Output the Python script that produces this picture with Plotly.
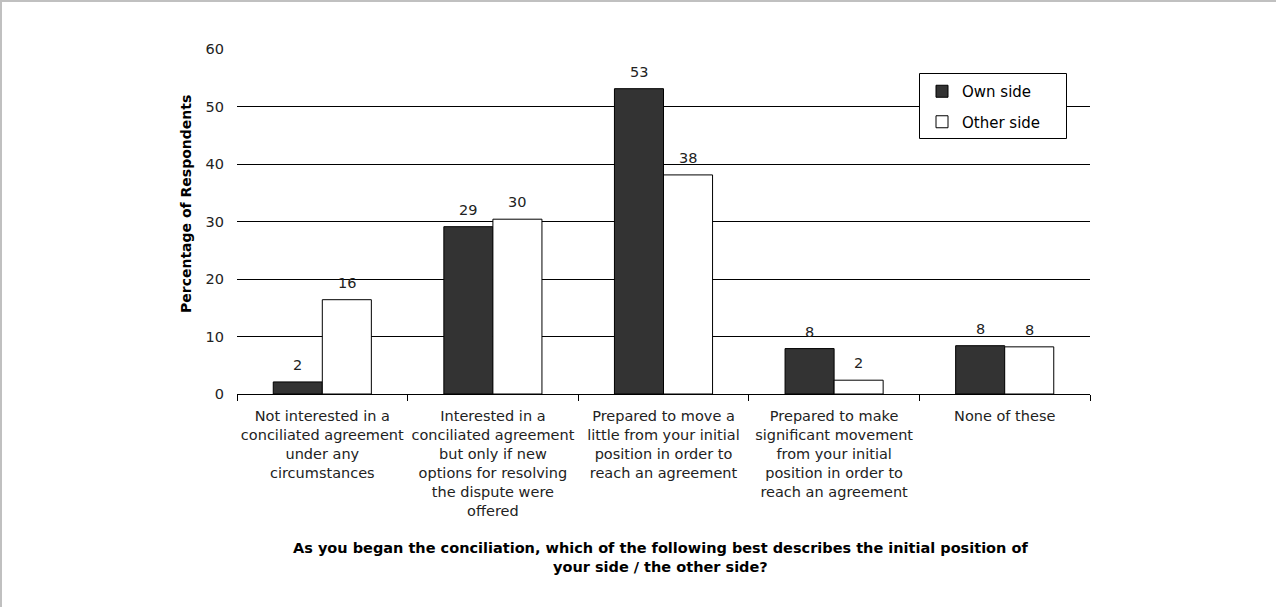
import plotly.graph_objects as go

categories = [
    "Not interested in a<br>conciliated agreement<br>under any<br>circumstances",
    "Interested in a<br>conciliated agreement<br>but only if new<br>options for resolving<br>the dispute were<br>offered",
    "Prepared to move a<br>little from your initial<br>position in order to<br>reach an agreement",
    "Prepared to make<br>significant movement<br>from your initial<br>position in order to<br>reach an agreement",
    "None of these",
]
own_side = [2.1, 29.1, 53.1, 7.9, 8.4]
other_side = [16.4, 30.4, 38.1, 2.4, 8.2]
y_ticks = [0, 10, 20, 30, 40, 50, 60]

FONT = "DejaVu Sans, Verdana, sans-serif"
FS = 14.5
W, H = 1276, 607
ML, MR, MT, MB = 237, 186, 49, 213
BARGAP = 0.425

fig = go.Figure()
fig.add_trace(go.Bar(
    name="Own side", x=categories, y=own_side, legendgroup="own",
    marker=dict(color="#333333", line=dict(color="#000000", width=1)),
))
fig.add_trace(go.Bar(
    name="Other side", x=categories, y=other_side, legendgroup="other",
    marker=dict(color="#ffffff", line=dict(color="#000000", width=1)),
))

# value labels above each bar, offset to the bar's slot within its group
plot_w = W - ML - MR
ph = H - MT - MB
cat_w = plot_w / len(categories)
bar_w = cat_w * (1 - BARGAP) / 2
for series, shift in ((own_side, -bar_w / 2), (other_side, bar_w / 2)):
    for cat, val in zip(categories, series):
        fig.add_annotation(
            x=cat, y=val, text=f"{val:.0f}", showarrow=False,
            xshift=shift, yshift=7, yanchor="bottom",
            font=dict(family=FONT, size=FS, color="#222222"),
        )


def px_x(px):
    return (px - ML) / plot_w


def px_y(py):
    return (H - MB - py) / ph


# axis titles
fig.add_annotation(
    xref="paper", yref="paper", x=px_x(186), y=px_y(204), textangle=-90,
    text="<b>Percentage of Respondents</b>", showarrow=False,
    xanchor="center", yanchor="middle",
    font=dict(family=FONT, size=14, color="#000000"),
)
fig.add_annotation(
    xref="paper", yref="paper", x=px_x(660), y=px_y(557.5),
    text="<b>As you began the conciliation, which of the following best describes the initial position of<br>your side / the other side?</b>",
    showarrow=False, xanchor="center", yanchor="middle", align="center",
    font=dict(family=FONT, size=14.5, color="#000000"),
)

# light frame along the top and left edges of the page
fig.add_shape(type="line", xref="paper", yref="paper",
              x0=px_x(0), x1=px_x(W), y0=px_y(1), y1=px_y(1),
              line=dict(color="#c0c0c0", width=2))
fig.add_shape(type="line", xref="paper", yref="paper",
              x0=px_x(1), x1=px_x(1), y0=px_y(0), y1=px_y(H),
              line=dict(color="#c0c0c0", width=2))

# legend frame
fig.add_shape(type="rect", xref="paper", yref="paper", layer="above",
              x0=px_x(919.5), x1=px_x(1066.5), y0=px_y(138.5), y1=px_y(73.5),
              fillcolor="#ffffff", line=dict(color="#000000", width=1))

fig.update_layout(
    width=W, height=H,
    margin=dict(l=ML, r=MR, t=MT, b=MB),
    paper_bgcolor="#ffffff", plot_bgcolor="#ffffff",
    barmode="group", bargap=BARGAP, bargroupgap=0,
    font=dict(family=FONT, size=FS, color="#222222"),
    showlegend=True,
    legend=dict(
        x=px_x(922), y=px_y(75),
        xanchor="left", yanchor="top",
        bgcolor="rgba(0,0,0,0)", borderwidth=0,
        font=dict(family=FONT, size=15, color="#000000"),
        itemwidth=30, tracegroupgap=8,
        traceorder="grouped",
    ),
    xaxis=dict(
        showline=True, linecolor="#000000", linewidth=1,
        ticks="outside", tickson="boundaries", ticklen=6, tickcolor="#000000",
        ticklabelstandoff=9, tickangle=0,
        tickfont=dict(family=FONT, size=FS, color="#222222"),
        showgrid=False, zeroline=False, fixedrange=True,
    ),
    yaxis=dict(
        range=[0, 60], tickvals=y_ticks, showline=False,
        showgrid=True, gridcolor="#000000", gridwidth=1,
        zeroline=False, ticks="", ticklabelstandoff=12,
        tickfont=dict(family=FONT, size=FS, color="#222222"),
        fixedrange=True,
    ),
)

fig.write_html("out.html", config={"displayModeBar": False})
